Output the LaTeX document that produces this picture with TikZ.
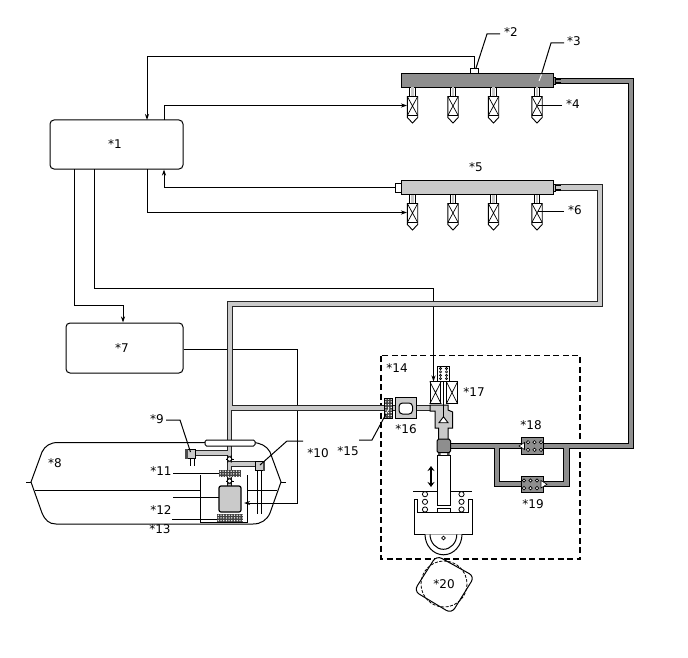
\documentclass[tikz,border=0pt]{standalone}
\usepackage{fontspec}
\setmainfont{DejaVu Sans}
\usetikzlibrary{arrows.meta}
\definecolor{hpgray}{HTML}{8E8E8E}
\definecolor{lpgray}{HTML}{CACACA}
\tikzset{
  x=1pt,y=-1pt,
  wire/.style={line width=1pt,black},
  feed/.style={wire,-{Stealth[length=6pt,width=4pt]}},
  lead/.style={line width=1pt,black},
  box/.style={draw,line width=1pt,rounded corners=4pt,fill=white,inner sep=0pt},
  part/.style={draw,line width=1pt,fill=white,inner sep=0pt},
  tag/.style={inner sep=0pt,font=\fontsize{12}{12}\selectfont},
  pipeHPo/.style={line width=6.8pt,black,line join=miter},
  pipeHPi/.style={line width=4.6pt,hpgray,line join=miter},
  pipeLPo/.style={line width=6.8pt,black!85,line join=miter},
  pipeLPi/.style={line width=4.6pt,lpgray,line join=miter},
  thinLPo/.style={line width=5.2pt,black!85,line join=miter},
  thinLPi/.style={line width=3.2pt,lpgray,line join=miter},
}
% one injector: feed stub, coil body with crossed windings and pointed nozzle
\newcommand{\injector}[2]{%
  \begin{scope}[shift={(#1,#2)}]
    \draw[line width=0.9pt,fill=white] (-2.8,-9) rectangle (2.8,0);
    \fill[lpgray] (-1.2,-9) rectangle (1.2,0);
    \draw[line width=0.9pt,fill=white] (-5.2,0) -- (5.2,0) -- (5.2,21) -- (0,26.5) -- (-5.2,21) -- cycle;
    \draw[line width=0.7pt] (-5.2,0) -- (5.2,19) (5.2,0) -- (-5.2,19) (-5.2,19) -- (5.2,19);
  \end{scope}}
% filter element: dark block with rows of pale dots
\newcommand{\meshblock}[4]{%
  \fill[black!75] (#1,#2) rectangle (#3,#4);
  \begin{scope}
    \clip (#1,#2) rectangle (#3,#4);
    \foreach \i in {0,...,14}{\foreach \j in {0,...,10}{
      \fill[white] ({#1+1.3+\i*2.7},{#2+1.2+\j*2.7}) circle (0.75);}}
  \end{scope}}
% check valve in the tank lines
\newcommand{\ballvalve}[2]{%
  \foreach \a in {0,60,...,300}{\draw[line width=1pt] (#1,#2) ++(\a:2.4) -- ++(\a:1.6);}
  \draw[line width=1pt,fill=white] (#1,#2) circle (2.3);}
% relief valve block with two rows of ports
\newcommand{\portrow}[2]{%
  \foreach \px in {-6.5,0,6.5}{\foreach \py in {-3.8,3.8}{
    \draw[line width=0.7pt,fill=white] ({#1+\px},{#2+\py}) circle (1.7);}}}
\begin{document}
\begin{tikzpicture}
\useasboundingbox (0,0) rectangle (688,658);
\fill[white] (0,0) rectangle (688,658);

% fuel tank
\draw[line width=1pt,fill=white] (31,482) -- (42,452) .. controls (45,446) and (50,442.5) .. (58,442.5)
  -- (252,442.5) .. controls (260,442.5) and (267,446) .. (270,452) -- (281,482) -- (270,513)
  .. controls (267,520) and (261,524) .. (253,524) -- (56,524) .. controls (49,524) and (45,520) .. (42,513) -- cycle;
\draw[line width=1pt] (26,482) -- (31,482) (281,482) -- (286,482);
\draw[line width=1pt] (35,490) -- (200,490) (247,490) -- (277,490);
\draw[line width=1pt] (200,475) -- (200,522) -- (247,522) -- (247,475);

% control boxes
\node[box,minimum width=133pt,minimum height=49pt] (ecu) at (116.5,144.5) {};
\node[box,minimum width=117pt,minimum height=50pt] (edu) at (124.5,348) {};

% fuel rails
\node[part,fill=hpgray,minimum width=152pt,minimum height=13.5pt] (hprail) at (477,80.7) {};
\node[part,fill=lpgray,minimum width=152pt,minimum height=13.5pt] (lprail) at (477,187.5) {};
\draw[line width=1pt,fill=hpgray] (553,77.5) -- (555.5,77.5) -- (555.5,84.5) -- (553,84.5) -- cycle;
\draw[line width=1pt,fill=lpgray] (553,184) -- (555.5,184) -- (555.5,191) -- (553,191) -- cycle;
\node[part,minimum width=8pt,minimum height=5.5pt] (hpsensor) at (474,71.2) {};
\node[part,minimum width=6pt,minimum height=9pt] (lpsensor) at (398,187.8) {};

% injectors
\foreach \ix in {412.5,453,493.5,537}{\injector{\ix}{96.5}\injector{\ix}{203.5}}
\coordinate (injA) at (407,105.5);
\coordinate (injB) at (407,212.5);
\coordinate (solA) at (433.5,381.5);
\coordinate (pumpIn) at (244,503);

% signal wiring
\draw[feed] (hpsensor.north) -- ++(0,-11.5) -| (147,120);
\draw[feed] (164,120) |- (injA);
\draw[feed] (lpsensor.west) -| (164,169.5);
\draw[feed] (147,169) |- (injB);
\draw[feed] (94,169) |- (433.5,288) -- (solA);
\draw[feed] (74,169) |- (123,305) -- (edu.north -| 123,305);
\draw[feed] (edu.east |- 0,349.5) -| (297,503) -- (pumpIn);

% supply module boundary
\draw[line width=1.1pt,dash pattern=on 6pt off 3.5pt] (381,355.5) rectangle (580,559);

% low pressure line
\draw[pipeLPo] (556,187.5) -- (600,187.5) -- (600,304) -- (230,304) -- (230,411);
\draw[pipeLPo] (230,408) -- (440,408);
\draw[thinLPo] (229.5,408) -- (229.5,486);
\draw[thinLPo] (229.5,453) -- (194,453);
\draw[thinLPo] (229.5,464) -- (258,464);
\draw[pipeLPi] (556,187.5) -- (600,187.5) -- (600,304) -- (230,304) -- (230,408);
\draw[pipeLPi] (230,408) -- (442,408);
\draw[thinLPi] (229.5,405) -- (229.5,486);
\draw[thinLPi] (229.5,453) -- (194,453);
\draw[thinLPi] (229.5,464) -- (258,464);

% high pressure line with the relief bypass
\draw[pipeHPo] (556,81) -- (631,81) -- (631,446) -- (448,446);
\draw[pipeHPo] (497,446) -- (497,484) -- (566.5,484) -- (566.5,446);
\draw[pipeHPi] (556,81) -- (631,81) -- (631,446) -- (448,446);
\draw[pipeHPi] (497,446) -- (497,484) -- (566.5,484) -- (566.5,446);

% rail outlet unions
\foreach \ry in {78.8,83}{\draw[line width=1.8pt] (555,\ry) -- (561,\ry);}
\foreach \ry in {185.4,189.6}{\draw[line width=1.8pt] (555,\ry) -- (561,\ry);}

% relief valves
\node[part,fill=hpgray,minimum width=21.5pt,minimum height=16.5pt] (valveA) at (532.5,446) {};
\node[part,fill=hpgray,minimum width=21.5pt,minimum height=16.5pt] (valveB) at (532.5,484.3) {};
\portrow{534.5}{446}
\portrow{530.5}{484.3}
\draw[line width=0.6pt,fill=white] (524.5,442.5) -- (524.5,449.5) -- (519,446) -- cycle;
\draw[line width=0.6pt,fill=white] (541,480.5) -- (541,488) -- (547,484.3) -- cycle;

% inlet metering valve and pump chamber
\draw[line width=1pt,fill=lpgray] (443,405) -- (448,405) -- (448,410) -- (452.7,412) -- (452.7,428) -- (448,428)
  -- (448,440) -- (438.5,440) -- (438.5,428) -- (435,428) -- (435,411) -- (430,411) -- (430,405) -- cycle;
\draw[line width=0.9pt,fill=white] (439,422.7) -- (448,422.7) -- (443.5,416.7) -- cycle;
\draw[line width=0.9pt] (443.5,382) -- (443.5,417);
\node[part,minimum width=10.5pt,minimum height=21.5pt] (coilL) at (435.5,392.7) {};
\node[part,minimum width=10.5pt,minimum height=21.5pt] (coilR) at (452,392.7) {};
\draw[line width=0.7pt] (coilL.north west) -- (coilL.south east) (coilL.north east) -- (coilL.south west);
\draw[line width=0.7pt] (coilR.north west) -- (coilR.south east) (coilR.north east) -- (coilR.south west);
\node[part,minimum width=12.5pt,minimum height=15pt] (solCap) at (443.5,373.5) {};
\foreach \py in {0,1,2,3}{\foreach \px in {440.5,446.5}{
  \draw[line width=0.6pt,fill=white] (\px,{368.5+\py*3.4}) circle (1.1);}}

% pulsation damper and inlet filter
\node[part,fill=lpgray,minimum width=21pt,minimum height=20.5pt] (damper) at (405.5,408) {};
\draw[line width=1pt,fill=white,rounded corners=3.5pt] (399,403) rectangle (412.5,414);
\meshblock{384.5}{398}{392.7}{418.3}
\draw[line width=0.8pt] (384.5,398) rectangle (392.7,418.3);

% plunger, pressure chamber and drive
\draw[line width=1pt,fill=hpgray,line join=round] (438.5,439) -- (449,439) -- (450.5,441) -- (450.5,451) -- (449,452.7) -- (438.5,452.7) -- (437,451) -- (437,441) -- cycle;
\draw[line width=0.9pt,fill=white] (437,455) rectangle (450,505);
\fill[black!70] (438,453) rectangle (440.5,455) (447,453) rectangle (449.5,455);
\draw[line width=0.9pt,fill=white] (437,508) rectangle (450,513);
\draw[line width=1pt] (413,491) -- (437,491) (450,491) -- (472,491);
\foreach \cy in {494.2,501.8,509.5}{
  \draw[line width=0.8pt,fill=white] (425,\cy) circle (2.6);
  \draw[line width=0.8pt,fill=white] (461.5,\cy) circle (2.6);}
\draw[line width=1pt,fill=white] (414,499) -- (417.5,499) -- (417.5,512.7) -- (468.7,512.7) -- (468.7,499) -- (472.5,499)
  -- (472.5,534.3) -- (414,534.3) -- cycle;
\draw[line width=1pt,fill=white] (425,534.3) arc[start angle=180,end angle=360,x radius=18.5,y radius=-20.5];
\draw[line width=1pt] (430,534.3) arc[start angle=180,end angle=360,x radius=13.4,y radius=-15];
\draw[line width=0.8pt,fill=white] (443.5,538) circle (1.9);
\draw[line width=2.4pt,{Stealth[length=5pt,width=7pt]}-{Stealth[length=5pt,width=7pt]}] (431,466) -- (431,487);

% camshaft lobe and base circle
\draw[line width=1pt,fill=white,rounded corners=6pt] (436.5,555.5) -- (474.5,576.5) -- (451.5,613.5) -- (414,591) -- cycle;
\draw[line width=0.8pt,dash pattern=on 3pt off 1.5pt] (444,584) circle (23);

% in-tank plumbing
\draw[line width=1pt] (190,459) -- (190,466) (194,459) -- (194,466);
\draw[line width=1pt] (257,469) -- (257,514) (261,469) -- (261,514);
\node[part,fill=lpgray,minimum width=8pt,minimum height=9pt] (regulator) at (191.5,453.5) {};
\fill[black!70] (185,449) rectangle (187.8,459);
\node[part,fill=lpgray,minimum width=8pt,minimum height=9pt] (jetpump) at (259.5,465.5) {};
\fill[black!70] (262.5,461) rectangle (265,470.5);
\node[part,fill=white,rounded corners=1.5pt,minimum width=50pt,minimum height=6pt] (topbar) at (230,443) {};
\ballvalve{229.5}{459}
\ballvalve{229.5}{481}
\meshblock{219}{470}{241}{477}
\node[part,fill=lpgray,line width=1.2pt,rounded corners=2pt,minimum width=22pt,minimum height=26pt] (pump) at (230,499) {};
\meshblock{217}{514}{243}{521.5}

% leader lines
\coordinate (l2a) at (500,34);
\draw[lead] (l2a) -- (487,34) -- (475.7,69);
\coordinate (l3a) at (564,43);
\draw[lead] (l3a) -- (551,43) -- (541.5,74);
\draw[line width=0.9pt,white] (541.5,74.5) -- (539,81);
\draw[lead] (562,106) -- (538,106);
\draw[lead] (564,211) -- (538,211);
\draw[lead] (166,420) -- (180,420) -- (190.5,452);
\draw[lead] (303,441) -- (287,441) -- (260,465);
\draw[lead] (173,473) -- (219,473);
\draw[lead] (173,497) -- (219,497);
\draw[lead] (172,519) -- (217,519);
\draw[lead] (359,440) -- (372,440) -- (386,414);
\draw[line width=0.8pt,white] (386,414) -- (389,408);

% part numbers
\node[tag] (t1) at (115,144) {*1};
\node[tag] (t2) at (511,32) {*2};
\node[tag] (t3) at (574,41) {*3};
\node[tag] (t4) at (573,104) {*4};
\node[tag] (t5) at (476,167) {*5};
\node[tag] (t6) at (575,210) {*6};
\node[tag] (t7) at (122,348) {*7};
\node[tag] (t8) at (55,463) {*8};
\node[tag] (t9) at (157,419) {*9};
\node[tag] (t10) at (318,453) {*10};
\node[tag] (t11) at (161,471) {*11};
\node[tag] (t12) at (161,510) {*12};
\node[tag] (t13) at (160,529) {*13};
\node[tag] (t14) at (397,368) {*14};
\node[tag] (t15) at (348,451) {*15};
\node[tag] (t16) at (406,429) {*16};
\node[tag] (t17) at (474,392) {*17};
\node[tag] (t18) at (531,425) {*18};
\node[tag] (t19) at (533,504) {*19};
\node[tag] (t20) at (444,584) {*20};
\end{tikzpicture}
\end{document}
